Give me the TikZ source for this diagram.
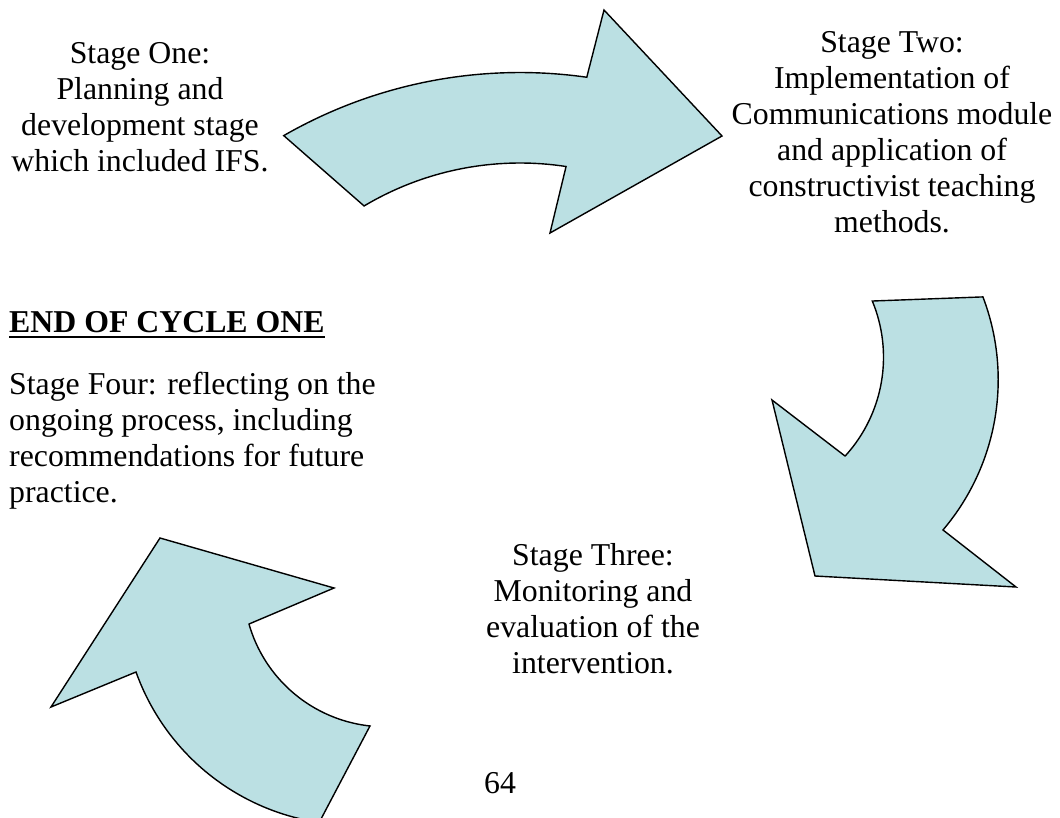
\documentclass[tikz,border=0pt]{standalone}
\usepackage{fontspec}
\setmainfont{Liberation Serif}
\definecolor{arrowfill}{RGB}{187,224,227}
\tikzset{
  curvedarrow/.style={fill=arrowfill, draw=black, line width=1.4pt, line join=miter},
  stagetext/.style={inner sep=0pt, font=\fontsize{31.8}{36}\selectfont, align=center, anchor=north},
  lefttext/.style={inner sep=0pt, font=\fontsize{31.8}{36}\selectfont, align=left, anchor=north west},
}
\begin{document}
\begin{tikzpicture}[x=1pt,y=-1pt]
\useasboundingbox (0,0) rectangle (1060,817);
\clip (0,0) rectangle (1060,817);
% arrow one (top)
\filldraw[curvedarrow]
  plot[domain=-119.9:-81.9, samples=60, variable=\t] ({520+474*cos(\t)},{546.5+474*sin(\t)})
  -- (604,10) -- (722,136) -- (550,233)
  -- plot[domain=-81.3:-120.8, samples=60, variable=\t] ({520+304.5*cos(\t)},{467.5+304.5*sin(\t)})
  -- cycle;
% arrow two (right)
\filldraw[curvedarrow]
  (772,400) -- (845,456)
  -- plot[domain=42.4:-22.55, samples=60, variable=\t] ({737+146.5*cos(\t)},{357.2+146.5*sin(\t)})
  -- plot[domain=-20.9:40.35, samples=60, variable=\t] ({766.1+232.1*cos(\t)},{379.7+232.1*sin(\t)})
  -- (1016,587) -- (815,576) -- cycle;
% arrow three (bottom left)
\filldraw[curvedarrow]
  (160,538) -- (334,588) -- (249,624)
  -- plot[domain=164:96.2, samples=60, variable=\t] ({385.3+141.8*cos(\t)},{585+141.8*sin(\t)})
  -- plot[domain=98.5:160.3, samples=60, variable=\t] ({353.3+230.8*cos(\t)},{594.2+230.8*sin(\t)})
  -- (51,707) -- cycle;
% texts
\node[stagetext] (one) at (140,37.8) {\strut Stage One:\\Planning and\\development stage\\which included IFS.};
\node[stagetext] (two) at (892,26.8) {\strut Stage Two:\\Implementation of\\Communications module\\and application of\\constructivist teaching\\methods.};
\node[stagetext] (three) at (593,539.8) {\strut Stage Three:\\Monitoring and\\evaluation of the\\intervention.};
\node[inner sep=0pt, anchor=base west, font=\fontsize{31.8}{36}\selectfont\bfseries] (endc) at (9,332) {END OF CYCLE ONE};
\draw[line width=2.7pt] ([yshift=-5pt]endc.base west) -- ([yshift=-5pt]endc.base east);
\node[lefttext] (four) at (9,368.8) {\strut Stage Four: reflecting on the\\ongoing process, including\\recommendations for future\\practice.};
\node[inner sep=0pt, anchor=base, font=\fontsize{31.8}{36}\selectfont] (page) at (500,793) {64};
\end{tikzpicture}
\end{document}
